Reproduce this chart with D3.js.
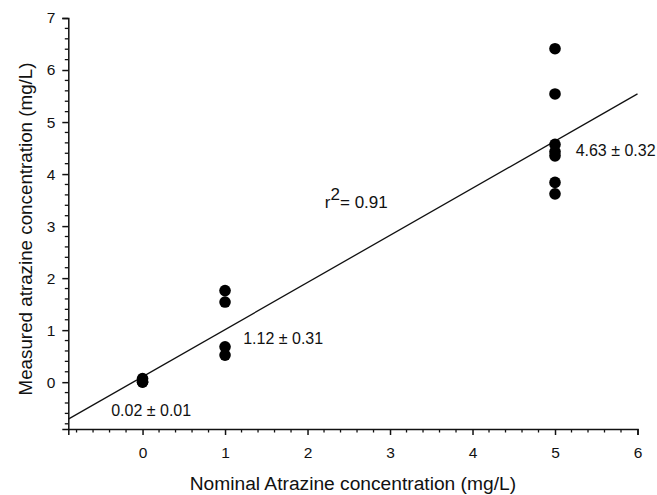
<!DOCTYPE html>
<html>
<head>
<meta charset="utf-8">
<script src="https://cdn.jsdelivr.net/npm/d3@7/dist/d3.min.js"></script>
<style>
  body { margin: 0; background: #fff; }
  svg text { font-family: "Liberation Sans", Arial, sans-serif; fill: #111; }
  .axis path, .axis line { stroke: #111; }
</style>
</head>
<body>
<div id="chart"></div>
<script>
// nominal concentration (mg/L) of each measured sample
var nominal = [0, 0, 0, 1, 1, 1, 1, 5, 5, 5, 5, 5, 5, 5];
// measured concentration (mg/L)
var measured = [0.07, 0.01, 0.0, 1.76, 1.54, 0.68, 0.52, 6.41, 5.54, 4.57, 4.43, 4.35, 3.84, 3.62];

// regression line
var fitSlope = 0.906;
var fitIntercept = 0.105;
var fitR2 = "0.91";

// group means shown as labels
var groupLabels = ["0.02 \u00b1 0.01", "1.12 \u00b1 0.31", "4.63 \u00b1 0.32"];
var groupX = [-0.38, 1.22, 5.25];
var groupY = [-0.65, 0.74, 4.35];

var xTicks = [0, 1, 2, 3, 4, 5, 6];
var yTicks = [0, 1, 2, 3, 4, 5, 6, 7];

var width = 657, height = 495;
var margin = {top: 18, right: 19.5, bottom: 66, left: 68.3};

var svg = d3.select("#chart").append("svg")
    .attr("width", width)
    .attr("height", height);

var x = d3.scaleLinear()
    .domain([-0.9, 6])
    .range([margin.left, width - margin.right]);

var y = d3.scaleLinear()
    .domain([-0.9, 7])
    .range([height - margin.bottom, margin.top]);

// minor ticks every 0.2
var xMinor = d3.range(-0.8, 6.01, 0.2).filter(function(v) { return Math.abs(v - Math.round(v)) > 0.01; });
var yMinor = d3.range(-0.8, 7.01, 0.2).filter(function(v) { return Math.abs(v - Math.round(v)) > 0.01; });

//x axis
var gx = svg.append("g")
    .attr("class", "axis")
    .attr("transform", "translate(0," + y(-0.9) + ")");
gx.call(d3.axisBottom(x).tickValues(xTicks).tickSize(6).tickPadding(12).tickFormat(d3.format("d")));
gx.selectAll("line").attr("stroke-width", 1.5);
gx.select(".domain").attr("stroke-width", 1.5);
gx.selectAll("text").attr("font-size", 15.5).attr("fill", "#111");
gx.selectAll(".minor").data(xMinor).enter().append("line")
    .attr("x1", function(d) { return x(d); })
    .attr("x2", function(d) { return x(d); })
    .attr("y1", 0).attr("y2", 3.5)
    .attr("stroke", "#111").attr("stroke-width", 1.3);

//y axis
var gy = svg.append("g")
    .attr("class", "axis")
    .attr("transform", "translate(" + x(-0.9) + ",0)");
gy.call(d3.axisLeft(y).tickValues(yTicks).tickSize(6).tickPadding(7).tickFormat(d3.format("d")));
gy.selectAll("line").attr("stroke-width", 1.5);
gy.select(".domain").attr("stroke-width", 1.5);
gy.selectAll("text").attr("font-size", 15.5).attr("fill", "#111");
gy.selectAll(".minor").data(yMinor).enter().append("line")
    .attr("y1", function(d) { return y(d); })
    .attr("y2", function(d) { return y(d); })
    .attr("x1", 0).attr("x2", -3.5)
    .attr("stroke", "#111").attr("stroke-width", 1.3);

// axis titles
svg.append("text")
    .attr("x", (x(-0.9) + x(6)) / 2)
    .attr("y", 490)
    .attr("text-anchor", "middle")
    .attr("font-size", 19.2)
    .text("Nominal Atrazine concentration (mg/L)");

svg.append("text")
    .attr("transform", "translate(32," + 229 + ") rotate(-90)")
    .attr("text-anchor", "middle")
    .attr("font-size", 18.8)
    .text("Measured atrazine concentration (mg/L)");

// regression line
var fitX = x.domain();
svg.append("line")
    .attr("x1", x(fitX[0]))
    .attr("y1", y(fitIntercept + fitSlope * fitX[0]))
    .attr("x2", x(fitX[1]))
    .attr("y2", y(fitIntercept + fitSlope * fitX[1]))
    .attr("stroke", "#111")
    .attr("stroke-width", 1.3);

// points
svg.selectAll("circle")
    .data(nominal)
    .enter()
    .append("circle")
    .attr("cx", function(d) { return x(d); })
    .attr("cy", function(d, i) { return y(measured[i]); })
    .attr("r", 5.8)
    .attr("fill", "#000");

// group mean labels
svg.selectAll(".group-label")
    .data(groupLabels)
    .enter()
    .append("text")
    .attr("class", "group-label")
    .attr("x", function(d, i) { return x(groupX[i]); })
    .attr("y", function(d, i) { return y(groupY[i]); })
    .attr("font-size", 16)
    .text(function(d) { return d; });

// r squared
var r2 = svg.append("text")
    .attr("x", x(2.21))
    .attr("y", y(3.34))
    .attr("font-size", 17);
r2.append("tspan").text("r");
r2.append("tspan").attr("dy", -8).text("2");
r2.append("tspan").attr("dy", 8).text("= " + fitR2);
</script>
</body>
</html>
